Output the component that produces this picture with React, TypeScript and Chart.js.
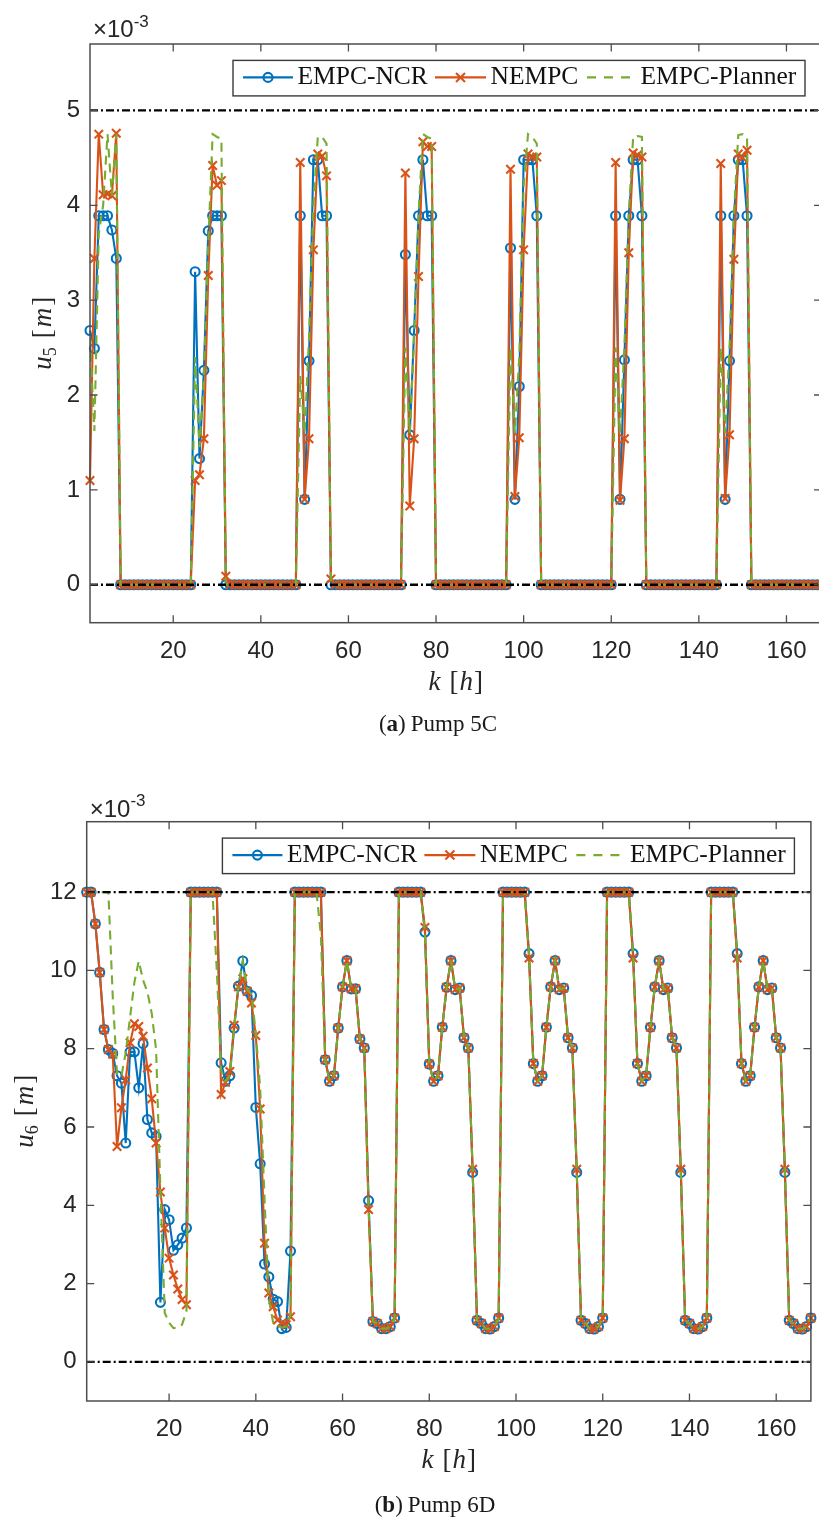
import React, { useEffect, useRef } from "react";
import { Chart, registerables } from "chart.js";

Chart.register(...registerables);

// ---------- data (values in units of 1e-3 m) ----------
const HOURS: number[] = Array.from({ length: 168 }, (_, i) => i + 1);

const X_TICKS = [20, 40, 60, 80, 100, 120, 140, 160];
const U5_Y_TICKS = [0, 1, 2, 3, 4, 5];
const U6_Y_TICKS = [0, 2, 4, 6, 8, 10, 12];
const U5_LIMITS = [0, 5];
const U6_LIMITS = [0, 12];
const LEGEND_LABELS = ["EMPC-NCR", "NEMPC", "EMPC-Planner"];

const U5_EMPC_NCR = [
  2.68, 2.49, 3.89, 3.89, 3.89, 3.74, 3.44,
  0, 0, 0, 0, 0, 0, 0, 0, 0, 0, 0, 0, 0, 0, 0, 0, 0,
  3.3, 1.33, 2.26, 3.73, 3.89, 3.89, 3.89,
  0, 0, 0, 0, 0, 0, 0, 0, 0, 0, 0, 0, 0, 0, 0, 0, 0,
  3.89, 0.9, 2.36, 4.48, 4.48, 3.89, 3.89,
  0, 0, 0, 0, 0, 0, 0, 0, 0, 0, 0, 0, 0, 0, 0, 0, 0,
  3.48, 1.58, 2.68, 3.89, 4.48, 3.89, 3.89,
  0, 0, 0, 0, 0, 0, 0, 0, 0, 0, 0, 0, 0, 0, 0, 0, 0,
  3.55, 0.9, 2.09, 4.48, 4.48, 4.48, 3.89,
  0, 0, 0, 0, 0, 0, 0, 0, 0, 0, 0, 0, 0, 0, 0, 0, 0,
  3.89, 0.9, 2.37, 3.89, 4.48, 4.48, 3.89,
  0, 0, 0, 0, 0, 0, 0, 0, 0, 0, 0, 0, 0, 0, 0, 0, 0,
  3.89, 0.9, 2.36, 3.89, 4.48, 4.48, 3.89,
  0, 0, 0, 0, 0, 0, 0, 0, 0, 0, 0, 0, 0, 0, 0, 0, 0,
];

const U5_NEMPC = [
  1.1, 3.44, 4.75, 4.11, 4.12, 4.1, 4.76,
  0, 0, 0, 0, 0, 0, 0, 0, 0, 0, 0, 0, 0, 0, 0, 0, 0,
  1.1, 1.16, 1.54, 3.26, 4.42, 4.21, 4.26,
  0.09, 0, 0, 0, 0, 0, 0, 0, 0, 0, 0, 0, 0, 0, 0, 0, 0,
  4.45, 0.9, 1.54, 3.53, 4.54, 4.52, 4.31,
  0.06, 0, 0, 0, 0, 0, 0, 0, 0, 0, 0, 0, 0, 0, 0, 0, 0,
  4.34, 0.83, 1.54, 3.25, 4.67, 4.62, 4.62,
  0, 0, 0, 0, 0, 0, 0, 0, 0, 0, 0, 0, 0, 0, 0, 0, 0,
  4.38, 0.93, 1.55, 3.53, 4.54, 4.51, 4.51,
  0, 0, 0, 0, 0, 0, 0, 0, 0, 0, 0, 0, 0, 0, 0, 0, 0,
  4.45, 0.89, 1.54, 3.5, 4.55, 4.53, 4.51,
  0, 0, 0, 0, 0, 0, 0, 0, 0, 0, 0, 0, 0, 0, 0, 0, 0,
  4.44, 0.91, 1.58, 3.43, 4.54, 4.5, 4.58,
  0, 0, 0, 0, 0, 0, 0, 0, 0, 0, 0, 0, 0, 0, 0, 0, 0,
];

const U5_PLANNER = [
  2.6, 1.62, 3.7, 4.0, 4.75, 4.1, 4.75,
  0, 0, 0, 0, 0, 0, 0, 0, 0, 0, 0, 0, 0, 0, 0, 0, 0,
  2.4, 1.45, 2.2, 3.6, 4.75, 4.72, 4.7,
  0, 0, 0, 0, 0, 0, 0, 0, 0, 0, 0, 0, 0, 0, 0, 0, 0,
  2.2, 1.6, 2.6, 4.0, 4.72, 4.72, 4.65,
  0, 0, 0, 0, 0, 0, 0, 0, 0, 0, 0, 0, 0, 0, 0, 0, 0,
  2.5, 1.6, 2.6, 3.9, 4.75, 4.72, 4.7,
  0, 0, 0, 0, 0, 0, 0, 0, 0, 0, 0, 0, 0, 0, 0, 0, 0,
  2.5, 1.6, 2.4, 4.2, 4.75, 4.72, 4.65,
  0, 0, 0, 0, 0, 0, 0, 0, 0, 0, 0, 0, 0, 0, 0, 0, 0,
  2.5, 1.6, 2.5, 3.9, 4.72, 4.73, 4.72,
  0, 0, 0, 0, 0, 0, 0, 0, 0, 0, 0, 0, 0, 0, 0, 0, 0,
  2.5, 1.6, 2.5, 3.9, 4.74, 4.75, 4.72,
  0, 0, 0, 0, 0, 0, 0, 0, 0, 0, 0, 0, 0, 0, 0, 0, 0,
];

const U6_EMPC_NCR = [
  12, 12, 11.19, 9.95, 8.49, 7.98, 7.88, 7.31, 7.12, 5.59, 7.92, 7.92, 7.0, 8.13, 6.19, 5.85, 5.76, 1.52, 3.89, 3.63, 2.85, 2.99, 3.16, 3.42,
  12, 12, 12, 12, 12, 12, 12, 7.64, 7.17, 7.31, 8.53, 9.6, 10.24, 9.47, 9.36, 6.5, 5.06, 2.5, 2.17, 1.6, 1.54, 0.85, 0.88, 2.83,
  12, 12, 12, 12, 12, 12, 12, 7.72, 7.17, 7.31, 8.53, 9.58, 10.25, 9.53, 9.53, 8.25, 8.02, 4.12, 1.03, 0.98, 0.85, 0.85, 0.9, 1.12,
  12, 12, 12, 12, 12, 12, 10.98, 7.61, 7.17, 7.31, 8.55, 9.57, 10.25, 9.51, 9.55, 8.28, 8.02, 4.84, 1.06, 0.98, 0.85, 0.84, 0.9, 1.12,
  12, 12, 12, 12, 12, 12, 10.43, 7.62, 7.17, 7.31, 8.55, 9.58, 10.25, 9.51, 9.55, 8.28, 8.02, 4.84, 1.06, 0.98, 0.85, 0.84, 0.9, 1.12,
  12, 12, 12, 12, 12, 12, 10.43, 7.62, 7.17, 7.31, 8.55, 9.58, 10.25, 9.51, 9.55, 8.28, 8.02, 4.84, 1.06, 0.98, 0.85, 0.84, 0.9, 1.12,
  12, 12, 12, 12, 12, 12, 10.43, 7.62, 7.17, 7.31, 8.55, 9.58, 10.25, 9.51, 9.55, 8.28, 8.02, 4.84, 1.06, 0.98, 0.85, 0.84, 0.9, 1.12,
];

const U6_NEMPC = [
  12, 12, 11.19, 9.95, 8.49, 7.98, 7.86, 5.5, 6.49, 7.21, 8.15, 8.64, 8.57, 8.32, 7.51, 6.72, 5.59, 4.34, 3.42, 2.65, 2.22, 1.86, 1.59, 1.46,
  12, 12, 12, 12, 12, 12, 12, 6.83, 7.14, 7.42, 8.6, 9.58, 9.79, 9.47, 9.17, 8.34, 6.46, 3.03, 1.76, 1.41, 1.07, 0.99, 0.95, 1.15,
  12, 12, 12, 12, 12, 12, 12, 7.72, 7.17, 7.31, 8.53, 9.58, 10.25, 9.53, 9.53, 8.25, 8.02, 3.89, 1.03, 0.98, 0.85, 0.85, 0.9, 1.12,
  12, 12, 12, 12, 12, 12, 11.1, 7.61, 7.17, 7.31, 8.55, 9.57, 10.25, 9.51, 9.55, 8.28, 8.02, 4.92, 1.06, 0.98, 0.85, 0.84, 0.9, 1.12,
  12, 12, 12, 12, 12, 12, 10.32, 7.62, 7.17, 7.31, 8.55, 9.58, 10.25, 9.51, 9.55, 8.28, 8.02, 4.92, 1.06, 0.98, 0.85, 0.84, 0.9, 1.12,
  12, 12, 12, 12, 12, 12, 10.32, 7.62, 7.17, 7.31, 8.55, 9.58, 10.25, 9.51, 9.55, 8.28, 8.02, 4.92, 1.06, 0.98, 0.85, 0.84, 0.9, 1.12,
  12, 12, 12, 12, 12, 12, 10.32, 7.62, 7.17, 7.31, 8.55, 9.58, 10.25, 9.51, 9.55, 8.28, 8.02, 4.92, 1.06, 0.98, 0.85, 0.84, 0.9, 1.12,
];

const U6_PLANNER = [
  12, 12, 12, 12, 12, 12, 9.35, 7.35, 7.3, 7.9, 8.8, 9.7, 10.24, 9.75, 9.45, 8.9, 7.98, 4.4, 1.25, 1.0, 0.86, 0.88, 0.95, 1.3,
  12, 12, 12, 12, 12, 12, 10.0, 7.45, 7.17, 7.31, 8.53, 9.6, 10.24, 9.5, 9.4, 8.4, 7.0, 4.2, 1.6, 1.0, 0.92, 0.88, 0.9, 1.2,
  12, 12, 12, 12, 12, 12, 10.9, 7.72, 7.17, 7.31, 8.53, 9.58, 10.25, 9.53, 9.53, 8.25, 8.02, 4.0, 1.03, 0.98, 0.85, 0.85, 0.9, 1.12,
  12, 12, 12, 12, 12, 12, 10.98, 7.61, 7.17, 7.31, 8.55, 9.57, 10.25, 9.51, 9.55, 8.28, 8.02, 4.88, 1.06, 0.98, 0.85, 0.84, 0.9, 1.12,
  12, 12, 12, 12, 12, 12, 10.43, 7.62, 7.17, 7.31, 8.55, 9.58, 10.25, 9.51, 9.55, 8.28, 8.02, 4.88, 1.06, 0.98, 0.85, 0.84, 0.9, 1.12,
  12, 12, 12, 12, 12, 12, 10.43, 7.62, 7.17, 7.31, 8.55, 9.58, 10.25, 9.51, 9.55, 8.28, 8.02, 4.88, 1.06, 0.98, 0.85, 0.84, 0.9, 1.12,
  12, 12, 12, 12, 12, 12, 10.43, 7.62, 7.17, 7.31, 8.55, 9.58, 10.25, 9.51, 9.55, 8.28, 8.02, 4.88, 1.06, 0.98, 0.85, 0.84, 0.9, 1.12,
];

// ---------- styles ----------
const BLUE = "#0072BD";
const RED = "#D95319";
const GREEN = "#77AC30";
const AXIS = "#4d4d4d";
const TEXT = "#262626";
const SANS = "'Liberation Sans', Arial, sans-serif";
const SERIF = "'Liberation Serif', 'Times New Roman', serif";
const LINE_W = 2.1;
const MARK_W = 2.1;

type Piece = { t: string; f: string; dy?: number; gap?: number };

function drawPieces(ctx: CanvasRenderingContext2D, pieces: Piece[], x: number, y: number, center: boolean) {
  let total = 0;
  for (const p of pieces) {
    ctx.font = p.f;
    total += ctx.measureText(p.t).width + (p.gap || 0);
  }
  let cx = center ? x - total / 2 : x;
  ctx.textAlign = "left";
  ctx.textBaseline = "alphabetic";
  for (const p of pieces) {
    ctx.font = p.f;
    ctx.fillText(p.t, cx, y + (p.dy || 0));
    cx += ctx.measureText(p.t).width + (p.gap || 0);
  }
}

type Panel = {
  ncr: number[];
  nempc: number[];
  planner: number[];
  limits: number[];
  yTicks: number[];
  yMin: number;
  yMax: number;
  width: number;
  height: number;
  padTop: number;
  padRight: number;
  yAxisW: number;
  xAxisH: number;
  expDy: number;
  yLabelDx: number;
  sub: string;
  capLetter: string;
  capText: string;
  capX: number;
  capDy: number;
};

function framePlugin(p: Panel) {
  return {
    id: "matlabFrame",
    afterDraw(chart: any) {
      const ctx: CanvasRenderingContext2D = chart.ctx;
      const a = chart.chartArea;
      const xs = chart.scales.x;
      const ys = chart.scales.y;
      ctx.save();
      ctx.setLineDash([]);
      // inward ticks
      ctx.strokeStyle = AXIS;
      ctx.lineWidth = 1.3;
      ctx.beginPath();
      for (const v of X_TICKS) {
        const px = xs.getPixelForValue(v);
        ctx.moveTo(px, a.bottom);
        ctx.lineTo(px, a.bottom - 7.5);
        ctx.moveTo(px, a.top);
        ctx.lineTo(px, a.top + 7.5);
      }
      for (const v of p.yTicks) {
        const py = ys.getPixelForValue(v);
        ctx.moveTo(a.left, py);
        ctx.lineTo(a.left + 7.5, py);
        ctx.moveTo(a.right, py);
        ctx.lineTo(a.right - 7.5, py);
      }
      ctx.stroke();
      // box
      ctx.lineWidth = 1.5;
      ctx.strokeRect(a.left, a.top, a.right - a.left, a.bottom - a.top);

      // exponent label
      ctx.fillStyle = TEXT;
      drawPieces(
        ctx,
        [
          { t: "\u00d7", f: `24px ${SANS}` },
          { t: "10", f: `24px ${SANS}` },
          { t: "-3", f: `17px ${SANS}`, dy: -10.5 },
        ],
        a.left + 3,
        a.top + p.expDy,
        false
      );

      // legend
      const lw = 572;
      const lh = 35.5;
      const lx = a.right - 16.5 - lw;
      const ly = a.top + 16.4;
      ctx.fillStyle = "#ffffff";
      ctx.fillRect(lx, ly, lw, lh);
      ctx.strokeStyle = "#3a3a3a";
      ctx.lineWidth = 1.4;
      ctx.strokeRect(lx, ly, lw, lh);
      const my = ly + 17;
      // item 1
      ctx.strokeStyle = BLUE;
      ctx.lineWidth = LINE_W;
      ctx.beginPath();
      ctx.moveTo(lx + 10, my);
      ctx.lineTo(lx + 60, my);
      ctx.stroke();
      ctx.beginPath();
      ctx.arc(lx + 35, my, 4.5, 0, Math.PI * 2);
      ctx.stroke();
      // item 2
      ctx.strokeStyle = RED;
      ctx.beginPath();
      ctx.moveTo(lx + 202, my);
      ctx.lineTo(lx + 253, my);
      const cxm = lx + 227.5;
      ctx.moveTo(cxm - 4.5, my - 4.5);
      ctx.lineTo(cxm + 4.5, my + 4.5);
      ctx.moveTo(cxm - 4.5, my + 4.5);
      ctx.lineTo(cxm + 4.5, my - 4.5);
      ctx.stroke();
      // item 3
      ctx.strokeStyle = GREEN;
      ctx.setLineDash([9, 8]);
      ctx.beginPath();
      ctx.moveTo(lx + 354, my);
      ctx.lineTo(lx + 403, my);
      ctx.stroke();
      ctx.setLineDash([]);
      ctx.fillStyle = "#111111";
      ctx.font = `25.5px ${SERIF}`;
      ctx.textAlign = "left";
      ctx.textBaseline = "alphabetic";
      ctx.fillText(LEGEND_LABELS[0], lx + 64.5, ly + 23.4);
      ctx.fillText(LEGEND_LABELS[1], lx + 257.5, ly + 23.4);
      ctx.fillText(LEGEND_LABELS[2], lx + 407.5, ly + 23.4);

      // x axis title: k [h]
      ctx.fillStyle = TEXT;
      drawPieces(
        ctx,
        [
          { t: "k", f: `italic 27px ${SERIF}`, gap: 9 },
          { t: "[", f: `27px ${SERIF}`, gap: 1 },
          { t: "h", f: `italic 27px ${SERIF}`, gap: 1 },
          { t: "]", f: `27px ${SERIF}` },
        ],
        (a.left + a.right) / 2,
        a.bottom + 67.3,
        true
      );

      // y axis title: u_n [m]
      ctx.save();
      ctx.translate(a.left + p.yLabelDx, (a.top + a.bottom) / 2);
      ctx.rotate(-Math.PI / 2);
      drawPieces(
        ctx,
        [
          { t: "u", f: `italic 27px ${SERIF}` },
          { t: p.sub, f: `18px ${SERIF}`, dy: 5, gap: 9 },
          { t: "[", f: `27px ${SERIF}`, gap: 2 },
          { t: "m", f: `italic 27px ${SERIF}`, gap: 2 },
          { t: "]", f: `27px ${SERIF}` },
        ],
        0,
        0,
        true
      );
      ctx.restore();

      // caption
      ctx.fillStyle = "#1a1a1a";
      drawPieces(
        ctx,
        [
          { t: "(", f: `23px ${SERIF}` },
          { t: p.capLetter, f: `bold 23px ${SERIF}` },
          { t: ")", f: `23px ${SERIF}`, gap: 5 },
          { t: p.capText, f: `23px ${SERIF}` },
        ],
        p.capX,
        a.bottom + p.capDy,
        true
      );
      ctx.restore();
    },
  };
}

function buildConfig(p: Panel): any {
  const pts = (arr: number[]) => arr.map((v, i) => ({ x: HOURS[i], y: v }));
  const first = HOURS[0];
  const last = HOURS[HOURS.length - 1];
  const limitSets = p.limits.map((v) => ({
    label: "limit",
    data: [
      { x: first, y: v },
      { x: last, y: v },
    ],
    borderColor: "#000000",
    borderWidth: 2.3,
    borderDash: [8, 3, 2, 3],
    pointRadius: 0,
    order: 0,
  }));
  const tickFont = { family: SANS, size: 24 };
  return {
    type: "line",
    data: {
      datasets: [
        {
          label: LEGEND_LABELS[0],
          data: pts(p.ncr),
          borderColor: BLUE,
          borderWidth: LINE_W,
          pointStyle: "circle",
          pointRadius: 4.5,
          pointBorderWidth: MARK_W,
          pointBorderColor: BLUE,
          pointBackgroundColor: "rgba(0,0,0,0)",
          clip: false,
          order: 3,
        },
        {
          label: LEGEND_LABELS[1],
          data: pts(p.nempc),
          borderColor: RED,
          borderWidth: LINE_W,
          pointStyle: "crossRot",
          pointRadius: 6,
          pointBorderWidth: MARK_W,
          pointBorderColor: RED,
          pointBackgroundColor: RED,
          clip: false,
          order: 2,
        },
        {
          label: LEGEND_LABELS[2],
          data: pts(p.planner),
          borderColor: GREEN,
          borderWidth: LINE_W,
          borderDash: [9, 6],
          pointRadius: 0,
          order: 1,
        },
        ...limitSets,
      ],
    },
    options: {
      animation: false,
      responsive: false,
      devicePixelRatio: 1,
      events: [],
      layout: { padding: { left: 0, top: p.padTop, right: p.padRight, bottom: 0 } },
      elements: { line: { tension: 0, fill: false } },
      plugins: { legend: { display: false }, tooltip: { enabled: false }, title: { display: false } },
      scales: {
        x: {
          type: "linear",
          min: 1,
          max: 168,
          grid: { display: false, drawTicks: false },
          border: { display: false },
          ticks: { font: tickFont, color: TEXT, padding: 14, maxRotation: 0, autoSkip: false },
          afterBuildTicks: (s: any) => {
            s.ticks = X_TICKS.map((v) => ({ value: v }));
          },
          afterFit: (s: any) => {
            s.height = p.xAxisH;
          },
        },
        y: {
          type: "linear",
          min: p.yMin,
          max: p.yMax,
          grid: { display: false, drawTicks: false },
          border: { display: false },
          ticks: { font: tickFont, color: TEXT, padding: 10, autoSkip: false },
          afterBuildTicks: (s: any) => {
            s.ticks = p.yTicks.map((v) => ({ value: v }));
          },
          afterFit: (s: any) => {
            s.width = p.yAxisW;
          },
        },
      },
    },
    plugins: [framePlugin(p)],
  };
}

const PANEL_A: Panel = {
  ncr: U5_EMPC_NCR,
  nempc: U5_NEMPC,
  planner: U5_PLANNER,
  limits: U5_LIMITS,
  yTicks: U5_Y_TICKS,
  yMin: -0.4,
  yMax: 5.7,
  width: 830,
  height: 745,
  padTop: 44,
  padRight: 830 - 821.5,
  yAxisW: 90,
  xAxisH: 745 - 622.7,
  expDy: -6.7,
  yLabelDx: -39,
  sub: "5",
  capLetter: "a",
  capText: "Pump 5C",
  capX: 438,
  capDy: 108.3,
};

const PANEL_B: Panel = {
  ncr: U6_EMPC_NCR,
  nempc: U6_NEMPC,
  planner: U6_PLANNER,
  limits: U6_LIMITS,
  yTicks: U6_Y_TICKS,
  yMin: -1,
  yMax: 13.8,
  width: 819,
  height: 774,
  padTop: 821.7 - 745,
  padRight: 819 - 817.7,
  yAxisW: 86.7,
  xAxisH: 774 - (1401 - 745),
  expDy: -5,
  yLabelDx: -53.7,
  sub: "6",
  capLetter: "b",
  capText: "Pump 6D",
  capX: 435,
  capDy: 110.7,
};

function PanelChart({ panel, top }: { panel: Panel; top: number }) {
  const ref = useRef<HTMLCanvasElement | null>(null);
  useEffect(() => {
    if (!ref.current) return;
    const chart = new Chart(ref.current, buildConfig(panel));
    return () => chart.destroy();
  }, [panel]);
  return (
    <canvas
      ref={ref}
      width={panel.width}
      height={panel.height}
      style={{ position: "absolute", left: 0, top, width: panel.width, height: panel.height }}
    />
  );
}

export default function App() {
  return (
    <div
      style={{
        position: "absolute",
        left: 0,
        top: 0,
        width: 819,
        height: 1519,
        overflow: "hidden",
        background: "#ffffff",
      }}
    >
      <PanelChart panel={PANEL_A} top={0} />
      <PanelChart panel={PANEL_B} top={745} />
    </div>
  );
}
